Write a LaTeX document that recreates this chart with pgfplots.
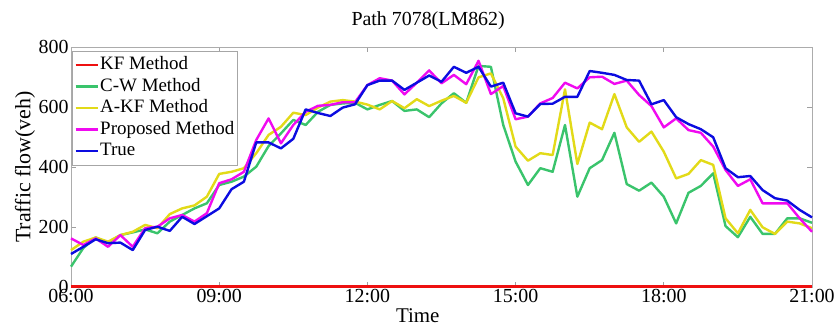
\documentclass[border=0pt]{standalone}
\usepackage{fontspec}
\setmainfont{Liberation Serif}
\usepackage{pgfplots}
\usepackage{pgfplotstable}
\pgfplotsset{compat=1.18}

\definecolor{kfred}{RGB}{238,16,16}
\definecolor{cwgreen}{RGB}{58,196,108}
\definecolor{akfyellow}{RGB}{226,218,24}
\definecolor{propmag}{RGB}{240,10,240}
\definecolor{trueblue}{RGB}{12,12,224}

% traffic flow on path 7078 (LM862), 15-minute intervals
\pgfplotstableread{
t     kf  cw   akf  prop  true
6.00  2   68   123  162   110
6.25  2   130  151  140   134
6.50  2   165  165  162   159
6.75  2   148  151  134   146
7.00  2   173  173  173   148
7.25  2   182  184  134   123
7.50  2   192  207  196   190
7.75  2   179  196  201   201
8.00  2   218  243  229   187
8.25  2   240  262  240   234
8.50  2   262  272  218   210
8.75  2   279  301  246   236
9.00  2   340  377  346   262
9.25  2   351  384  359   326
9.50  2   368  396  384   351
9.75  2   401  446  490   482
10.00 2   470  507  562   482
10.25 2   512  534  479   462
10.50 2   557  581  540   494
10.75 2   540  573  584   592
11.00 2   584  598  604   580
11.25 2   607  618  607   570
11.50 2   612  623  616   598
11.75 2   614  618  616   609
12.00 2   592  608  673   673
12.25 2   607  592  696   688
12.50 2   620  620  688   688
12.75 2   587  596  642   657
13.00 2   592  626  681   681
13.25 2   566  603  722   705
13.50 2   612  621  679   684
13.75 2   646  637  707   734
14.00 2   614  614  676   714
14.25 2   737  699  754   734
14.50 2   734  712  643   668
14.75 2   540  629  670   681
15.00 2   418  468  559   579
15.25 2   340  421  568   568
15.50 2   396  446  612   610
15.75 2   384  440  630   611
16.00 2   540  659  681   634
16.25 2   301  410  662   634
16.50 2   396  548  699   720
16.75 2   423  526  701   714
17.00 2   514  643  677   707
17.25 2   343  532  688   690
17.50 2   321  484  640   688
17.75 2   348  518  603   609
18.00 2   301  451  532   623
18.25 2   212  362  562   566
18.50 2   314  377  523   543
18.75 2   337  423  514   526
19.00 2   379  407  468   499
19.25 2   203  229  390   396
19.50 2   166  179  337   366
19.75 2   234  257  359   370
20.00 2   177  199  279   323
20.25 2   177  177  279   296
20.50 2   229  218  279   288
20.75 2   229  212  229   257
21.00 2   214  196  184   232
}\flowdata

\begin{document}
\begin{tikzpicture}
\useasboundingbox (-71bp,-40bp) rectangle (763bp,287bp);
\begin{axis}[
  at={(0bp,0bp)}, anchor=south west,
  scale only axis, width=741bp, height=240bp,
  xmin=6, xmax=21, ymin=0, ymax=800,
  xtick={6,9,12,15,18,21},
  xticklabels={06:00,09:00,12:00,15:00,18:00,21:00},
  ytick={0,200,400,600,800},
  /pgf/number format/assume math mode=true,
  tick align=inside,
  major tick length=5bp,
  tick style={gray!75, line width=0.7bp},
  axis line style={gray!65, line width=0.8bp},
  ticklabel style={font=\fontsize{20}{22}\selectfont},
  xticklabel style={yshift=1bp},
  yticklabel style={xshift=1bp},
  title={Path 7078(LM862)},
  title style={font=\fontsize{20}{22}\selectfont, at={(axis description cs:0.482,1.083)}, anchor=center},
  xlabel={Time},
  xlabel style={font=\fontsize{21}{24}\selectfont, at={(axis description cs:0.468,-0.118)}, anchor=center},
  ylabel={Traffic flow(veh)},
  ylabel style={font=\fontsize{22}{24}\selectfont, at={(axis description cs:-0.062,0.5)}, anchor=center},
  clip=false,
  every axis plot/.append style={line width=2.4bp, line join=round},
  legend cell align=left,
  legend image code/.code={\draw[#1] (0bp,0bp) -- (22bp,0bp);},
  legend style={at={(axis description cs:0,1)}, anchor=north west,
    xshift=1bp, yshift=-4bp, draw=gray!70, line width=0.7bp, fill=white,
    font=\fontsize{19}{22}\selectfont,
    inner xsep=2bp, inner ysep=3bp,
    nodes={inner sep=1.5bp, text height=14bp, text depth=4.5bp}},
]
\addplot[kfred] table[x=t, y=kf] {\flowdata};
\addplot[cwgreen] table[x=t, y=cw] {\flowdata};
\addplot[akfyellow] table[x=t, y=akf] {\flowdata};
\addplot[propmag] table[x=t, y=prop] {\flowdata};
\addplot[trueblue] table[x=t, y=true] {\flowdata};
\legend{KF Method, C-W Method, A-KF Method, Proposed Method, True}
\end{axis}
\end{tikzpicture}
\end{document}
